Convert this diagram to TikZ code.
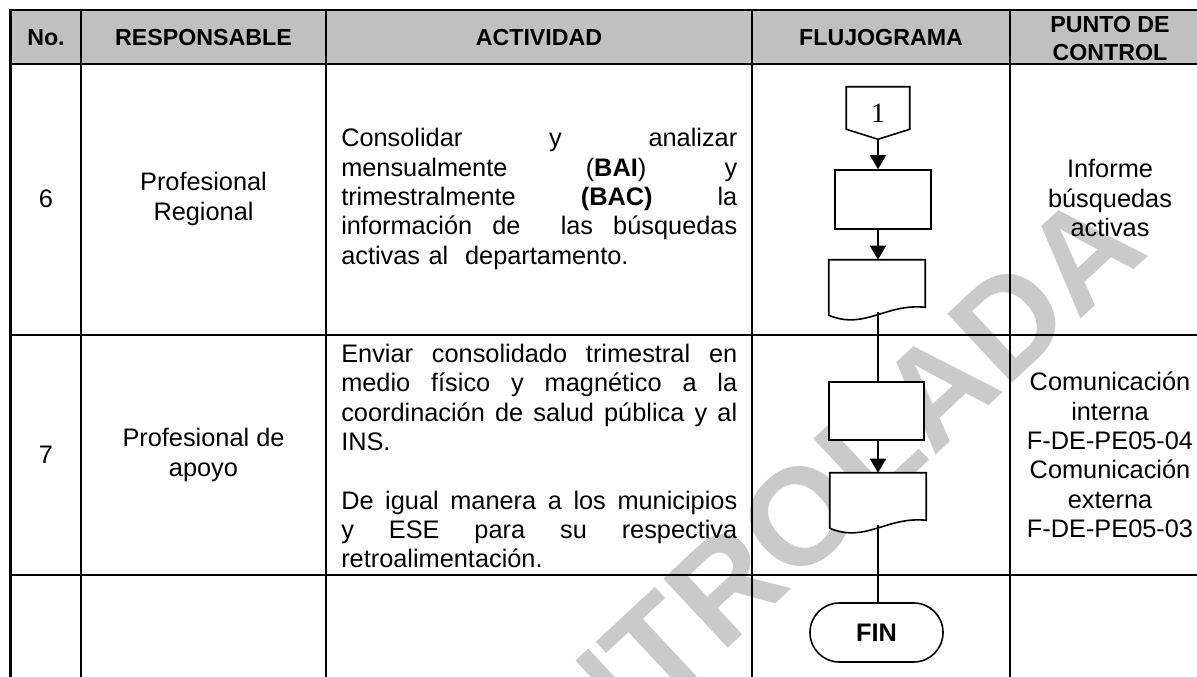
\documentclass[tikz,border=0pt]{standalone}
\usepackage{fontspec}
\setmainfont{Liberation Sans}
\newfontfamily\serifnum{Liberation Serif}
\usetikzlibrary{arrows.meta,positioning}
\definecolor{headgray}{RGB}{192,192,192}
\definecolor{markgray}{RGB}{202,202,202}
\newcommand{\jline}[1]{{\spaceskip=0pt\xspaceskip=0pt\makebox[297pt][s]{#1}}}

\begin{document}
\begin{tikzpicture}[x=0.75pt,y=-0.75pt,
    tableline/.style={line width=1.9pt,line cap=rect},
    head/.style={font=\fontsize{17.4}{21}\selectfont\bfseries,align=center},
    cell/.style={font=\fontsize{19}{22}\selectfont,align=center},
    activity/.style={font=\fontsize{19}{22}\selectfont,text width=297pt,align=left,
      inner sep=0pt,anchor=west,execute at begin node=\setlength{\parindent}{0pt}},
    flow/.style={line width=1.2pt},
    flowarrow/.style={flow,-{Triangle[length=10.5pt,width=12pt]}},
    flowbox/.style={draw,flow,fill=white,minimum width=72pt,minimum height=44pt,inner sep=0pt},
    docbox/.style={minimum width=72pt,minimum height=41.25pt,inner sep=0pt}]
    \useasboundingbox (0,0) rectangle (1197,677);
    \clip (0,0) rectangle (1197,677);

    % watermark
    \node[rotate=43,anchor=base east,text=markgray,inner sep=0pt,
      font=\fontsize{103}{103}\selectfont\bfseries] (mark) at (1151,254) {CONTROLADA};

    % table
    \fill[headgray] (10.5,10) rectangle (1212,64);
    \foreach \y in {10,64,335,575}
      \draw[tableline] (10.5,\y) -- (1212,\y);
    \foreach \x in {10.5,81,326,752,1010}
      \draw[tableline] (\x,10) -- (\x,700);

    \node[head] (hno) at (46,38) {No.};
    \node[head] (hresp) at (203.5,38) {RESPONSABLE};
    \node[head] (hact) at (539,38) {ACTIVIDAD};
    \node[head] (hflow) at (881,38) {FLUJOGRAMA};
    \node[head] (hctrl) at (1110,39) {PUNTO DE\\CONTROL};

    % step 6
    \node[cell] (no6) at (46,199) {6};
    \node[cell] (resp6) at (203.5,199) {Profesional\\Regional};
    \node[activity] (act6) at (341,199) {%
      \jline{Consolidar y analizar}\\
      \jline{mensualmente (\textbf{BAI}) y}\\
      \jline{trimestralmente \textbf{(BAC)} la}\\
      \jline{información de\ \ las búsquedas}\\
      activas al\ \ departamento.};
    \node[cell] (ctrl6) at (1110,198) {Informe\\búsquedas\\activas};

    % step 7
    \node[cell] (no7) at (46,455) {7};
    \node[cell] (resp7) at (203.5,455) {Profesional de\\apoyo};
    \node[activity] (act7) at (341,456) {%
      \jline{Enviar consolidado trimestral en}\\
      \jline{medio físico y magnético a la}\\
      \jline{coordinación de salud pública y al}\\
      INS.\\[22pt]
      \jline{De igual manera a los municipios}\\
      \jline{y ESE para su respectiva}\\
      retroalimentación.};
    \node[cell] (ctrl7) at (1110,455) {Comunicación\\interna\\F-DE-PE05-04\\Comunicación\\externa\\F-DE-PE05-03};

    % flowchart
    \node[docbox,minimum width=47.25pt,minimum height=39pt] (conn) at (878,113) {\serifnum\fontsize{21}{21}\selectfont 1};
    \draw[flow] (conn.north west) -- (conn.north east) -- ([yshift=7.5pt]conn.south east)
      -- (conn.south) -- ([yshift=7.5pt]conn.south west) -- cycle;
    \node[flowbox,minimum height=44.25pt] (proc1) at (883,199.5) {};
    \node[docbox] (doc1) at (877,287.5) {};
    \node[flowbox,minimum width=71.25pt,minimum height=43.5pt] (proc2) at (876.5,411) {};
    \node[docbox] (doc2) at (878,500.5) {};
    \node[flowbox,rounded corners=22pt,minimum width=99.75pt,minimum height=44.25pt,
      font=\fontsize{19}{22}\selectfont\bfseries] (fin) at (876.5,632.5) {FIN};
    \foreach \d in {doc1,doc2}
      \draw[flow,fill=white] (\d.north west) -- (\d.north east) -- ([yshift=6pt]\d.south east)
        .. controls ([xshift=-30pt,yshift=9pt]\d.south east) and ([xshift=27pt,yshift=-11.25pt]\d.south west)
        .. (\d.south west) -- cycle;

    \draw[flowarrow] (conn.south) -- (conn.south |- proc1.north);
    \draw[flowarrow] (proc1.south -| conn.south) -- (conn.south |- doc1.north);
    \draw[flow] ([yshift=2.5pt]doc1.south -| conn.south) -- (conn.south |- proc2.north);
    \draw[flowarrow] (proc2.south -| conn.south) -- (conn.south |- doc2.north);
    \draw[flow] ([yshift=2.5pt]doc2.south -| conn.south) -- (conn.south |- fin.north);
\end{tikzpicture}
\end{document}
